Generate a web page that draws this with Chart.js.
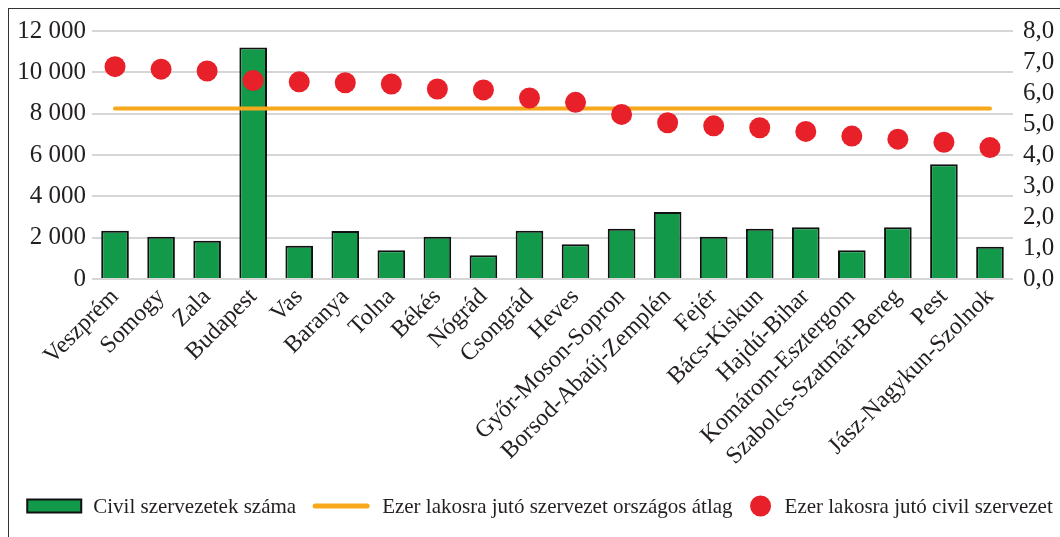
<!DOCTYPE html>
<html lang="hu">
<head>
<meta charset="utf-8">
<script src="https://cdn.jsdelivr.net/npm/chart.js@4/dist/chart.umd.min.js"></script>
<style>
  html, body { margin: 0; padding: 0; background: #fff; }
  #wrap { position: relative; width: 1060px; height: 537px; overflow: hidden; }
  #frame { position: absolute; left: 8px; top: 8px; width: 1200px; height: 700px;
           border-left: 1.5px solid #333; border-top: 1.5px solid #333; }
  #chart { position: absolute; left: 0; top: 0; }
</style>
</head>
<body>
<div id="wrap">
  <div id="frame"></div>
  <canvas id="chart" width="1060" height="537"></canvas>
</div>
<script>
// megyék
const categories = ['Veszprém', 'Somogy', 'Zala', 'Budapest', 'Vas', 'Baranya', 'Tolna', 'Békés', 'Nógrád',
  'Csongrád', 'Heves', 'Győr-Moson-Sopron', 'Borsod-Abaúj-Zemplén', 'Fejér', 'Bács-Kiskun', 'Hajdú-Bihar',
  'Komárom-Esztergom', 'Szabolcs-Szatmár-Bereg', 'Pest', 'Jász-Nagykun-Szolnok'];

// civil szervezetek száma (bal tengely)
const orgCounts = [2330, 2050, 1850, 11200, 1610, 2320, 1390, 2050, 1150, 2330, 1680, 2430, 3240, 2050, 2430,
  2500, 1390, 2500, 5550, 1560];

// ezer lakosra jutó szervezet (jobb tengely)
const perThousand = [6.85, 6.77, 6.71, 6.40, 6.36, 6.33, 6.29, 6.13, 6.10, 5.84, 5.70, 5.31, 5.04, 4.94, 4.88,
  4.76, 4.61, 4.51, 4.41, 4.24];

// országos átlag
const nationalAvg = [5.5, 5.5, 5.5, 5.5, 5.5, 5.5, 5.5, 5.5, 5.5, 5.5, 5.5, 5.5, 5.5, 5.5, 5.5, 5.5, 5.5, 5.5, 5.5, 5.5];

const leftTicks = [0, 2000, 4000, 6000, 8000, 10000, 12000];
const rightTicks = [0, 1, 2, 3, 4, 5, 6, 7, 8];

const GREEN = '#12994a';
const ORANGE = '#f7a81b';
const RED = '#e8202a';
const TEXT = '#231f20';
const FONT = '"Liberation Serif", "Times New Roman", serif';

// saját jelmagyarázat a vászon alján
const legendPlugin = {
  id: 'bottomLegend',
  afterDraw(chart) {
    const ctx = chart.ctx;
    const y = 506;
    ctx.save();
    ctx.font = '21px ' + FONT;
    ctx.textBaseline = 'middle';
    const items = chart.data.datasets.map(ds => ({
      label: ds.label,
      kind: ds.type === 'bar' ? 'box' : ds.showLine === false ? 'dot' : 'line'
    }));
    const iconW = { box: 54, line: 58, dot: 24 };
    const iconGap = 12, itemGap = 16;
    let total = 0;
    items.forEach((it, i) => {
      it.textW = ctx.measureText(it.label).width;
      total += iconW[it.kind] + iconGap + it.textW + (i ? itemGap : 0);
    });
    let x = 540 - total / 2;
    items.forEach(it => {
      const w = iconW[it.kind];
      if (it.kind === 'box') {
        ctx.fillStyle = GREEN;
        ctx.strokeStyle = '#111';
        ctx.lineWidth = 2;
        ctx.fillRect(x, y - 6.5, w, 13);
        ctx.strokeRect(x, y - 6.5, w, 13);
      } else if (it.kind === 'line') {
        ctx.strokeStyle = ORANGE;
        ctx.lineWidth = 5;
        ctx.lineCap = 'round';
        ctx.beginPath();
        ctx.moveTo(x + 3, y);
        ctx.lineTo(x + w - 3, y);
        ctx.stroke();
      } else {
        ctx.fillStyle = RED;
        ctx.beginPath();
        ctx.arc(x + 12, y, 10.5, 0, Math.PI * 2);
        ctx.fill();
      }
      x += w + iconGap;
      ctx.fillStyle = TEXT;
      ctx.fillText(it.label, x, y + 1);
      x += it.textW + itemGap;
    });
    ctx.restore();
  }
};

const ctx = document.getElementById('chart').getContext('2d');
window.civilChart = new Chart(ctx, {
  data: {
    labels: categories,
    datasets: [
      {
        type: 'bar',
        label: 'Civil szervezetek száma',
        data: orgCounts,
        yAxisID: 'y',
        backgroundColor: GREEN,
        borderColor: '#111',
        borderWidth: 2,
        barPercentage: 0.6,
        categoryPercentage: 1,
        order: 3
      },
      {
        type: 'line',
        label: 'Ezer lakosra jutó szervezet országos átlag',
        data: nationalAvg,
        yAxisID: 'y1',
        borderColor: ORANGE,
        borderWidth: 4,
        borderCapStyle: 'round',
        pointRadius: 0,
        fill: false,
        order: 2
      },
      {
        type: 'line',
        label: 'Ezer lakosra jutó civil szervezet',
        data: perThousand,
        yAxisID: 'y1',
        showLine: false,
        pointRadius: 10.5,
        pointHoverRadius: 10.5,
        pointBackgroundColor: RED,
        pointBorderColor: RED,
        pointBorderWidth: 0,
        order: 1
      }
    ]
  },
  options: {
    responsive: false,
    animation: false,
    devicePixelRatio: 1,
    layout: { padding: { top: 31, left: 0, right: 0, bottom: 0 } },
    plugins: {
      legend: { display: false },
      tooltip: { enabled: false }
    },
    scales: {
      x: {
        offset: true,
        grid: { display: false, drawTicks: false },
        border: { display: false },
        ticks: {
          autoSkip: false,
          maxRotation: 45,
          minRotation: 45,
          padding: 4,
          color: TEXT,
          font: { family: FONT, size: 24 }
        },
        afterFit: s => { s.height = 258; }
      },
      y: {
        position: 'left',
        min: 0,
        max: 12000,
        afterBuildTicks: s => { s.ticks = leftTicks.map(v => ({ value: v })); },
        grid: { color: '#d6d6d6', lineWidth: 2, drawTicks: false },
        border: { display: false },
        ticks: {
          autoSkip: false,
          padding: 6,
          color: TEXT,
          font: { family: FONT, size: 25 },
          callback: v => String(v).replace(/\B(?=(\d{3})+(?!\d))/g, ' ')
        },
        afterFit: s => { s.width = 92; }
      },
      y1: {
        position: 'right',
        min: 0,
        max: 8,
        afterBuildTicks: s => { s.ticks = rightTicks.map(v => ({ value: v })); },
        grid: { drawOnChartArea: false, drawTicks: false },
        border: { display: false },
        ticks: {
          autoSkip: false,
          padding: 10,
          color: TEXT,
          font: { family: FONT, size: 25 },
          callback: v => v.toFixed(1).replace('.', ',')
        },
        afterFit: s => { s.width = 47; }
      }
    }
  },
  plugins: [legendPlugin]
});
</script>
</body>
</html>
